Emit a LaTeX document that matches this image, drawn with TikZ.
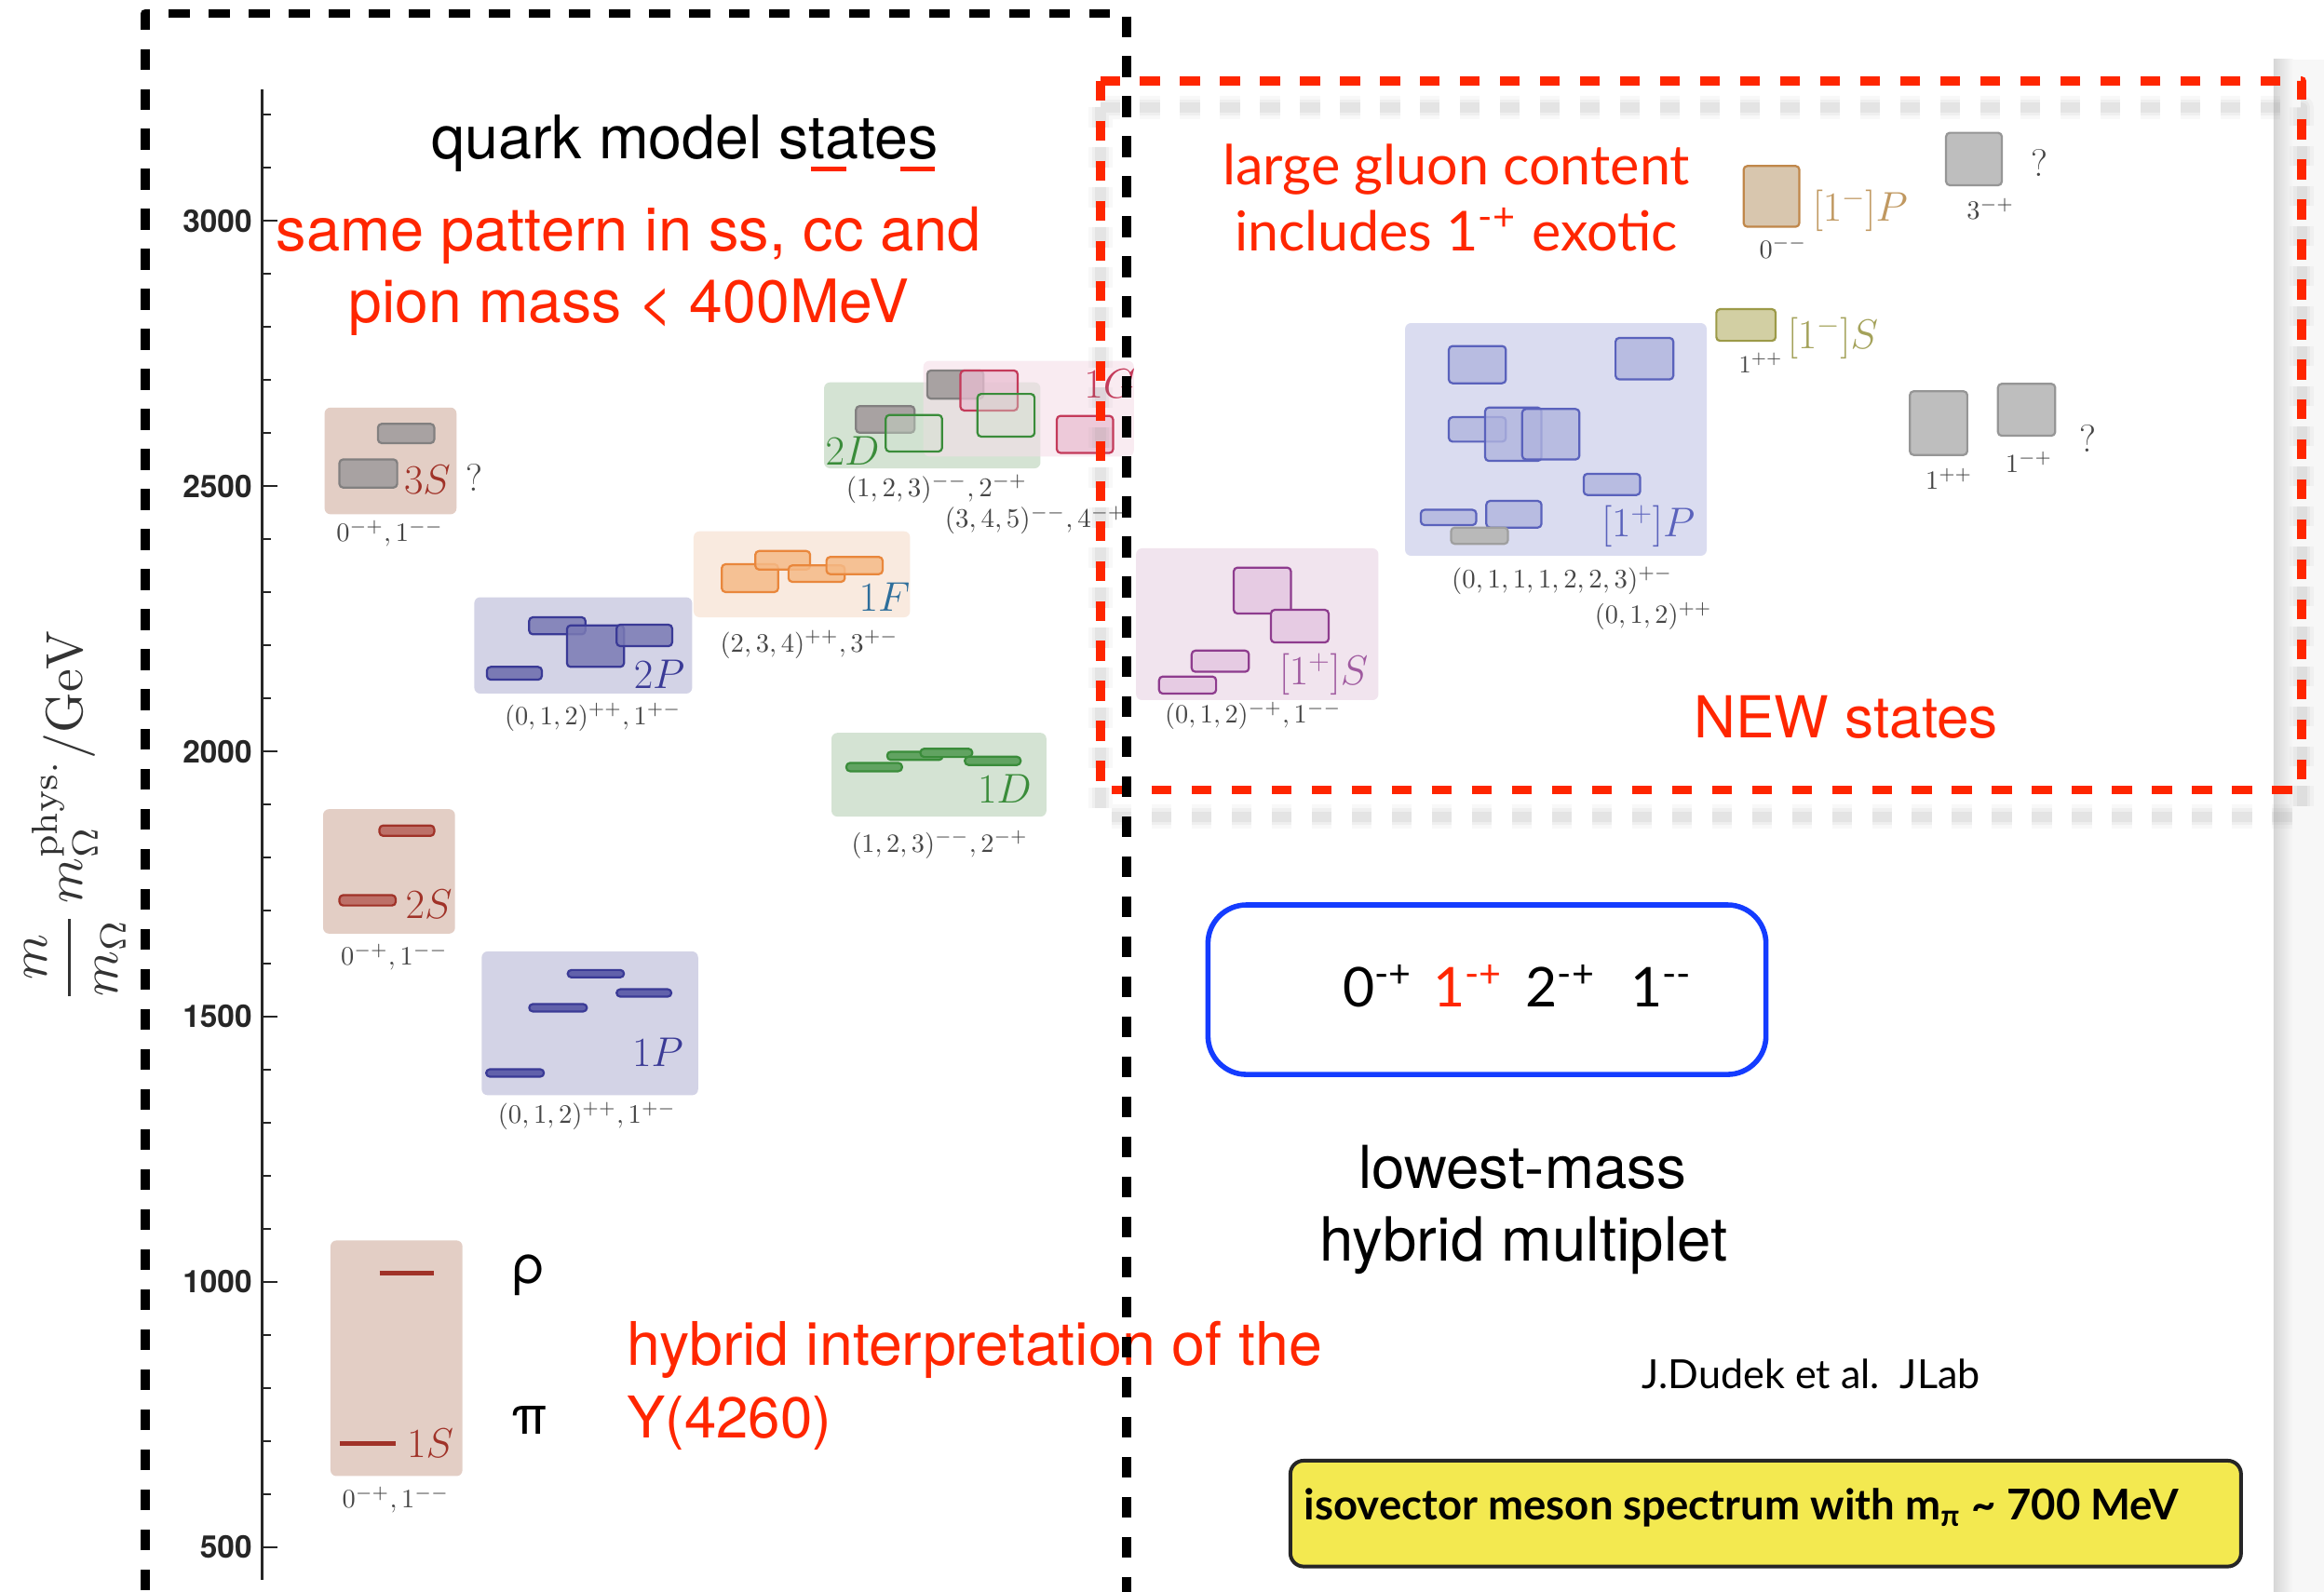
\RequirePackage{fix-cm}
\documentclass[tikz,border=0pt]{standalone}
\usepackage{fontspec}
\usepackage{graphicx}
\usetikzlibrary{shadings}
\newfontfamily\helv{TeX Gyre Heros}
\newfontfamily\gill{Lato}
\newcommand{\fitw}[2]{\resizebox{#1pt}{!}{#2}}

\definecolor{kred}{RGB}{255,38,0}
\definecolor{Sbg}{RGB}{227,206,197}
\definecolor{Sln}{RGB}{160,50,40}
\definecolor{Pbg}{RGB}{211,211,230}
\definecolor{Pln}{RGB}{58,58,150}
\definecolor{Pfill}{RGB}{122,122,180}
\definecolor{Fbg}{RGB}{249,234,223}
\definecolor{Ffill}{RGB}{245,186,135}
\definecolor{Fln}{RGB}{233,135,60}
\definecolor{Flab}{RGB}{45,110,155}
\definecolor{Dbg}{RGB}{212,227,211}
\definecolor{Dln}{RGB}{58,140,58}
\definecolor{Gbg}{RGB}{245,222,233}
\definecolor{Gfill}{RGB}{233,190,210}
\definecolor{Gln}{RGB}{196,58,90}
\definecolor{grfill}{RGB}{168,162,162}
\definecolor{grln}{RGB}{130,128,128}
\definecolor{HSbg}{RGB}{241,228,238}
\definecolor{HSfill}{RGB}{230,203,227}
\definecolor{HSln}{RGB}{142,60,142}
\definecolor{HPbg}{RGB}{218,220,240}
\definecolor{HPfill}{RGB}{176,180,222}
\definecolor{HPln}{RGB}{90,98,188}
\definecolor{olfill}{RGB}{210,207,163}
\definecolor{olln}{RGB}{156,154,72}
\definecolor{ollab}{RGB}{164,162,90}
\definecolor{tanfill}{RGB}{216,198,174}
\definecolor{tanln}{RGB}{192,135,74}
\definecolor{tanlab}{RGB}{192,152,96}
\definecolor{hgrfill}{RGB}{190,190,190}
\definecolor{hgrln}{RGB}{150,150,150}
\definecolor{labgray}{RGB}{70,70,70}
\definecolor{boxblue}{RGB}{20,60,255}
\definecolor{hlyellow}{RGB}{243,233,80}

\tikzset{
  every node/.style={inner sep=0pt, outer sep=0pt},
  bgbox/.style={rounded corners=4pt},
  lvl/.style={rounded corners=2.5pt, line width=1.4pt},
  lab/.style={text=labgray},
  sname/.style={font=\fontsize{28}{30}\selectfont},
  qmark/.style={text=labgray, font=\fontsize{26}{26}\selectfont},
  ticklab/.style={anchor=east, font=\helv\bfseries\fontsize{21}{21}\selectfont, text=black!85},
  axisln/.style={line width=1.6pt, black!85},
  jpc/.style={anchor=base west, font=\gill\fontsize{37}{37}\selectfont},
  dashbox/.style={line width=6pt, dash pattern=on 13.5pt off 13.5pt},
}

\begin{document}
\begin{tikzpicture}[x=1pt, y=-1pt, line join=round]
\useasboundingbox (0,0) rectangle (1568,1074);
\clip (0,0) rectangle (1568,1074);
\fill[white] (0,0) rectangle (1568,1074);

% light margin strip on the right
\fill[gray!6] (1534,40) rectangle (1568,1074);
\shade[left color=gray!32, right color=gray!6] (1534,40) rectangle (1547,1074);

% ---------- mass axis ----------
\draw[axisln] (177,60.5) -- (177,1066);
\foreach \m in {500,1000,1500,2000,2500,3000}
  \draw[axisln] (177,{1044-(\m-500)*0.358}) -- ++(10,0);
\foreach \m in {600,700,800,900,1100,1200,1300,1400,1600,1700,1800,1900,2100,2200,2300,2400,2600,2700,2800,2900,3100,3200}
  \draw[axisln] (177,{1044-(\m-500)*0.358}) -- ++(6,0);
\foreach \m in {500,1000,1500,2000,2500,3000}
  \node[ticklab] (t\m) at (170,{1044-(\m-500)*0.358}) {\m};
\node[rotate=90, text=black!80] (ylab) at (50.8,551)
  {\fitw{251}{$\displaystyle\frac{m}{m_\Omega}\,m_\Omega^{\mathrm{phys.}}/\mathrm{GeV}$}};

% ---------- S wave ----------
\fill[Sbg, bgbox] (223,837) rectangle (312,996);
\draw[Sln, line width=3pt] (256,859) -- (293,859);
\draw[Sln, line width=3pt] (229,974) -- (267,974);
\node[sname, text=Sln, anchor=east] (n1S) at (306,974) {$1S$};
\node[lab] (l1S) at (267,1012) {\fitw{72}{$0^{-+},1^{--}$}};

\fill[Sbg, bgbox] (218,546) rectangle (307,630);
\draw[lvl, draw=Sln, fill=Sln!70] (256,557) rectangle (293,564);
\draw[lvl, draw=Sln, fill=Sln!70] (229,604) rectangle (267,611);
\node[sname, text=Sln, anchor=east] (n2S) at (305,610) {$2S$};
\node[lab] (l2S) at (266,646) {\fitw{72}{$0^{-+},1^{--}$}};

\fill[Sbg, bgbox] (219,275) rectangle (308,347);
\draw[lvl, draw=grln, fill=grfill] (255,286) rectangle (293,299);
\draw[lvl, draw=grln, fill=grfill] (229,310) rectangle (268,329);
\node[sname, text=Sln, anchor=east] (n3S) at (304,324) {$3S$};
\node[qmark] (q3S) at (320,322) {?};
\node[lab] (l3S) at (263,360) {\fitw{72}{$0^{-+},1^{--}$}};

% ---------- P wave ----------
\fill[Pbg, bgbox] (325,642) rectangle (471,739);
\foreach \a/\b/\yy in {328/367/724, 357/396/680, 383/421/657, 416/453/670}
  \draw[lvl, draw=Pln, fill=Pln!80] (\a,\yy-2.5) rectangle (\b,\yy+2.5);
\node[sname, text=Pln, anchor=east] (n1P) at (461,710) {$1P$};
\node[lab] (l1P) at (396,753) {\fitw{120}{$(0,1,2)^{++},1^{+-}$}};

\fill[Pbg, bgbox] (320,403) rectangle (467,468);
\draw[lvl, draw=Pln, fill=Pfill] (328.5,450) rectangle (365.6,458.6);
\draw[lvl, draw=Pln, fill=Pfill, fill opacity=0.85] (357,416.5) rectangle (395,428);
\draw[lvl, draw=Pln, fill=Pfill, fill opacity=0.85] (382.5,422) rectangle (421,450);
\draw[lvl, draw=Pln, fill=Pfill, fill opacity=0.85] (416,421.5) rectangle (453.5,436);
\node[sname, text=Pln, anchor=east] (n2P) at (462,455) {$2P$};
\node[lab] (l2P) at (400,484) {\fitw{119}{$(0,1,2)^{++},1^{+-}$}};

% ---------- F wave ----------
\fill[Fbg, bgbox] (468,358.5) rectangle (614,416.5);
\foreach \a/\b/\c/\d in {487/380.7/525/399.5, 509.6/371.8/546.6/384.3, 532/381.5/570/392.6, 557.6/375.8/595.5/387.4}
  \draw[lvl, draw=Fln, fill=Ffill, fill opacity=0.85] (\a,\b) rectangle (\c,\d);
\node[sname, text=Flab, anchor=east] (n1F) at (614,403) {$1F$};
\node[lab] (l1F) at (546,435) {\fitw{120}{$(2,3,4)^{++},3^{+-}$}};

% ---------- D wave ----------
\fill[Dbg, bgbox] (561,494.5) rectangle (706,551);
\foreach \a/\b/\yy in {571/608.6/517.6, 598.6/636/510, 621/656/508, 651/688.6/513.4}
  \draw[lvl, draw=Dln, fill=Dln!80] (\a,\yy-2.8) rectangle (\b,\yy+2.8);
\node[sname, text=Dln, anchor=east] (n1D) at (696,532) {$1D$};
\node[lab] (l1D) at (634,570) {\fitw{119}{$(1,2,3)^{--},2^{-+}$}};

\fill[Dbg, bgbox] (556,258) rectangle (702,316);
\fill[Gbg, bgbox, fill opacity=0.6] (623,243.5) rectangle (765,308);
\draw[lvl, draw=grln, fill=grfill] (577.5,274) rectangle (617,292);
\draw[lvl, draw=grln, fill=grfill] (625.6,250) rectangle (663.5,269);
\draw[lvl, draw=Dln, fill=Dln!25, fill opacity=0.4] (597.6,280) rectangle (635.6,304.7);
\draw[lvl, draw=Gln, fill=Gfill, fill opacity=0.75] (648,250) rectangle (686.6,277);
\draw[lvl, draw=Dln, fill=Dln!25, fill opacity=0.4] (659.5,265.8) rectangle (698,294.6);
\draw[lvl, draw=Gln, fill=Gfill, fill opacity=0.75] (713,280.6) rectangle (751,305.6);
\node[sname, text=Dln, anchor=west] (n2D) at (557,304) {$2D$};
\node[sname, text=Gln, anchor=east] (n1G) at (766,259) {$1G$};
\node[lab] (l2D) at (632,330) {\fitw{122}{$(1,2,3)^{--},2^{-+}$}};
\node[lab] (l1G) at (698.6,351) {\fitw{122}{$(3,4,5)^{--},4^{-+}$}};

% ---------- hybrid S ----------
\fill[HSbg, bgbox] (766.5,370) rectangle (930,472.4);
\foreach \a/\b/\c/\d in {832.4/383/871/414, 857.5/411.5/896.4/433.5, 804/439/842.6/453.3, 782/456.5/820.5/468}
  \draw[lvl, draw=HSln, fill=HSfill] (\a,\b) rectangle (\c,\d);
\node[sname, text=HSln!85, anchor=east] (nHS) at (923,455) {$[1^+]S$};
\node[lab] (lHS) at (845.5,483) {\fitw{119}{$(0,1,2)^{-+},1^{--}$}};

% ---------- hybrid P ----------
\fill[HPbg, bgbox] (948,218) rectangle (1151.5,375);
\foreach \a/\b/\c/\d in {977.5/233.5/1016/258.6, 1090/228/1129/256, 977.5/281.5/1016/298, 1002/275/1040/311, 1027/276/1065.6/310, 1068.5/319.7/1106.6/334, 958.6/344/996/354.3, 1002.8/338/1040/356}
  \draw[lvl, draw=HPln, fill=HPfill, fill opacity=0.8] (\a,\b) rectangle (\c,\d);
\draw[lvl, draw=gray!75, fill=gray!55] (979,356) rectangle (1017.4,367);
\node[sname, text=HPln, anchor=east] (nHP) at (1143.5,355) {$[1^+]P$};
\node[lab] (lHP1) at (1054,392) {\fitw{149}{$(0,1,1,1,2,2,3)^{+-}$}};
\node[lab] (lHP2) at (1115.6,416) {\fitw{79}{$(0,1,2)^{++}$}};

% ---------- higher hybrids ----------
\draw[lvl, draw=olln, fill=olfill] (1158,208.6) rectangle (1198,230);
\node[sname, text=ollab, anchor=west] (nMS) at (1206,228) {$[1^-]S$};
\node[lab] (lMS) at (1188,245) {\fitw{29.5}{$1^{++}$}};

\draw[lvl, draw=tanln, fill=tanfill] (1176.4,112) rectangle (1214,153);
\node[sname, text=tanlab, anchor=west] (nMP) at (1223,142) {$[1^-]P$};
\node[lab] (lMP) at (1203,167) {\fitw{32}{$0^{--}$}};

\draw[lvl, draw=hgrln, fill=hgrfill] (1313,89.6) rectangle (1350.6,125);
\node[lab] (lg3) at (1343,141) {\fitw{32}{$3^{-+}$}};
\node[qmark] (qg3) at (1376,110) {?};
\draw[lvl, draw=hgrln, fill=hgrfill] (1288.6,264) rectangle (1327.3,307);
\node[lab] (lg1) at (1315,323) {\fitw{31.6}{$1^{++}$}};
\draw[lvl, draw=hgrln, fill=hgrfill] (1348,259) rectangle (1386.6,294);
\node[lab] (lg2) at (1369,312) {\fitw{31.5}{$1^{-+}$}};
\node[qmark] (qg2) at (1409,296) {?};

% ---------- annotations ----------
\node[anchor=base west] (qms) at (291,107) {\fitw{342}{\helv quark model states}};
\draw[kred, line width=3.5pt] (547,114) -- (571,114);
\draw[kred, line width=3.5pt] (607.5,114) -- (631,114);
\node[anchor=base west, text=kred] (pat1) at (186.5,169.5) {\fitw{475.5}{\helv same pattern in ss, cc and}};
\node[anchor=base west, text=kred] (pat2) at (235.5,217.5) {\fitw{378}{\helv pion mass < 400MeV}};
\node[anchor=base west, text=kred] (glu1) at (825,124.6) {\fitw{315}{\gill large gluon content}};
\node[anchor=base west, text=kred] (glu2) at (833,169) {\fitw{299}{\gill includes 1\textsuperscript{-+} exotic}};
\node[anchor=base west, text=kred] (news) at (1143,497.6) {\fitw{205}{\helv NEW states}};
\node[anchor=base west, text=kred] (hyb1) at (423,921) {\fitw{469}{\helv hybrid interpretation of the}};
\node[anchor=base west, text=kred] (hyb2) at (423,970) {\fitw{138}{\helv Y(4260)}};
\node[anchor=base west, font=\helv\fontsize{36}{36}\selectfont] (rho) at (345,866) {ρ};
\node[anchor=base west, font=\helv\fontsize{36}{36}\selectfont] (pion) at (345,967.5) {π};

% lowest hybrid multiplet
\node[draw=boxblue, line width=3.5pt, rounded corners=26pt, minimum width=376.5pt, minimum height=114.4pt] (hbox) at (1003.25,667.8) {};
\node[jpc] (j0) at (906,679.4) {0\textsuperscript{-+}};
\node[jpc, text=kred] (j1) at (967,679.4) {1\textsuperscript{-+}};
\node[jpc] (j2) at (1029.5,679.4) {2\textsuperscript{-+}};
\node[jpc] (j3) at (1100,679.4) {1\textsuperscript{-{}-}};
\node[anchor=base west] (low1) at (916.6,802) {\fitw{221}{\helv lowest-mass}};
\node[anchor=base west] (low2) at (890.6,850.6) {\fitw{275}{\helv hybrid multiplet}};
\node[anchor=base west] (auth) at (1108,937) {\fitw{228}{\gill J.Dudek et al.\ \ JLab}};

% caption banner
\node[draw=black!85, line width=2.5pt, fill=hlyellow, rounded corners=9pt, minimum width=641.4pt, minimum height=71.4pt] (ybox) at (1191.3,1021.3) {};
\node[anchor=base west] (ytxt) at (880,1025.6) {\fitw{590}{\gill\bfseries isovector meson spectrum with m\textsubscript{π} \textasciitilde{} 700 MeV}};

% ---------- frames ----------
% soft shadow under the red frame
\foreach \w/\o in {16/0.05, 11/0.07, 7/0.09}
  \draw[gray, line width=\w pt, opacity=\o, dash pattern=on 13.5pt off 13.5pt] (742.5,72.5) rectangle (1553,551);
\draw[kred, dashbox] (742.5,54.5) rectangle (1553,533);
\draw[black, line width=6pt, dash pattern=on 14pt off 13pt] (98,1100) -- (98,9) -- (760,9) -- (760,1100);
\end{tikzpicture}
\end{document}
